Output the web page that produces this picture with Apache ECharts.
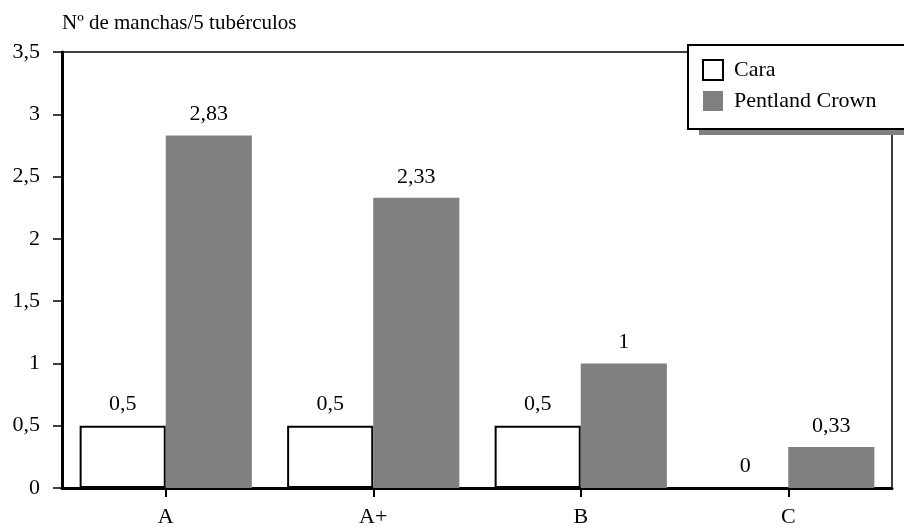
<!DOCTYPE html>
<html><head><meta charset="utf-8">
<script src="https://cdn.jsdelivr.net/npm/echarts@6/dist/echarts.min.js"></script>
<style>html,body{margin:0;padding:0;background:#fff}#c{width:904px;height:528px}</style>
</head><body><div id="c"></div>
<script>
const categories = ['A', 'A+', 'B', 'C'];
const seriesNames = ['Cara', 'Pentland Crown'];
const cara = [0.5, 0.5, 0.5, 0];
const pentland = [2.83, 2.33, 1, 0.33];
const yTitle = 'Nº de manchas/5 tubérculos';

const font = 'Liberation Serif, Times New Roman, serif';
const fs = 22;
const fmt = v => String(v).replace('.', ',');
const chart = echarts.init(document.getElementById('c'));
chart.setOption({
  animation: false,
  textStyle: { fontFamily: font },
  title: { text: yTitle, left: 57, top: 8, textStyle: { fontFamily: font, fontSize: 21, fontWeight: 'normal', color: '#000' } },
  grid: { left: 62, right: 12, top: 52, bottom: 40, outerBoundsMode: 'none', containLabel: false, show: true, borderColor: '#000', borderWidth: 1.5, backgroundColor: 'transparent' },
  graphic: [
    { type: 'rect', left: 699, top: 55, shape: { width: 220, height: 80 }, style: { fill: '#808080' }, z: 5 }
  ],
  legend: {
    orient: 'vertical', left: 688, top: 45, z: 10,
    data: seriesNames,
    itemWidth: 20, itemHeight: 20, itemGap: 9,
    padding: [14, 40, 17, 14],
    backgroundColor: '#fff', borderColor: '#000', borderWidth: 2,
    textStyle: { fontFamily: font, fontSize: fs, color: '#000', padding: [0, 0, 0, 6] },
    icon: 'rect'
  },
  xAxis: {
    type: 'category', data: categories,
    axisLine: { lineStyle: { color: '#000', width: 3 } },
    axisTick: { show: true, alignWithLabel: true, length: 9, lineStyle: { color: '#000', width: 2 } },
    axisLabel: { color: '#000', fontSize: fs, margin: 18, fontFamily: font }
  },
  yAxis: {
    type: 'value', min: 0, max: 3.5, interval: 0.5,
    axisLine: { show: true, lineStyle: { color: '#000', width: 3 } },
    axisTick: { show: true, length: 9, lineStyle: { color: '#000', width: 1.5 } },
    splitLine: { show: false },
    axisLabel: { color: '#000', fontSize: fs, margin: 22, fontFamily: font, formatter: fmt }
  },
  series: [
    {
      name: seriesNames[0], type: 'bar', data: cara,
      barGap: '0%', barCategoryGap: '17%',
      itemStyle: { color: '#fff', borderColor: '#000', borderWidth: 2 },
      label: { show: true, position: 'top', distance: 10, color: '#000', fontSize: fs, fontFamily: font, formatter: p => fmt(p.value) }
    },
    {
      name: seriesNames[1], type: 'bar', data: pentland,
      barGap: '0%', barCategoryGap: '17%',
      itemStyle: { color: '#808080' },
      label: { show: true, position: 'top', distance: 10, color: '#000', fontSize: fs, fontFamily: font, formatter: p => fmt(p.value) }
    }
  ]
});
</script></body></html>
